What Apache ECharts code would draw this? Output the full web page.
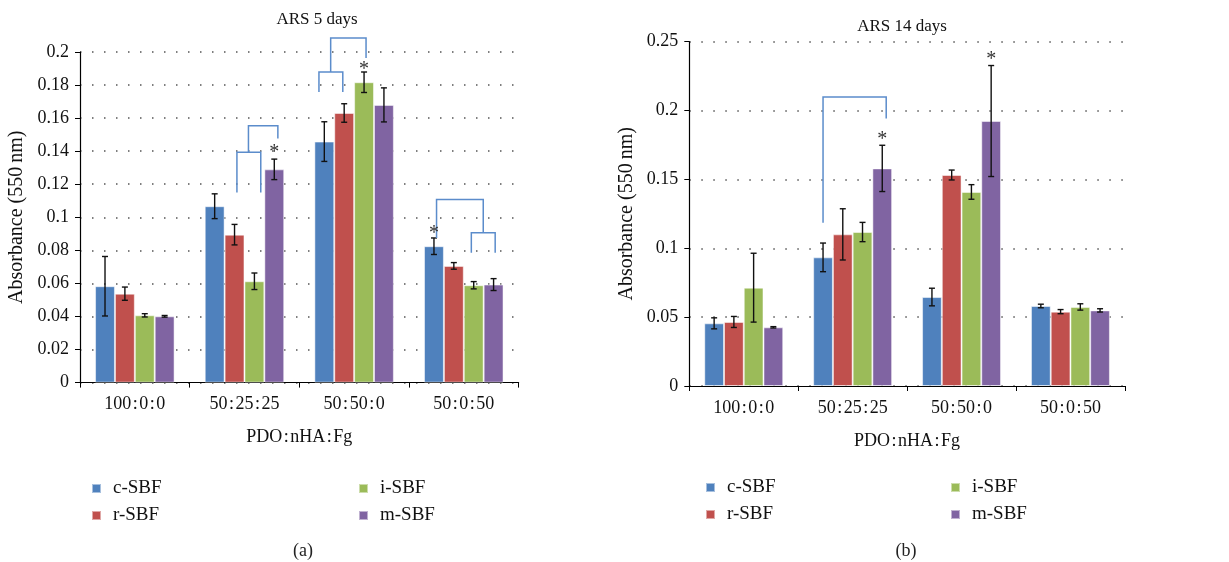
<!DOCTYPE html>
<html><head><meta charset="utf-8">
<script src="https://cdn.jsdelivr.net/npm/echarts@6/dist/echarts.min.js"></script>
<style>html,body{margin:0;padding:0;background:#fff}#c{width:1229px;height:562px}</style>
</head><body><div id="c"></div>
<script>
// ---- data ----
const categories = ['100\u200A:\u200A0\u200A:\u200A0', '50\u200A:\u200A25\u200A:\u200A25', '50\u200A:\u200A50\u200A:\u200A0', '50\u200A:\u200A0\u200A:\u200A50'];
const seriesNames = ['c-SBF', 'r-SBF', 'i-SBF', 'm-SBF'];
const titles = ['ARS 5 days', 'ARS 14 days'];
const panelLabels = ['(a)', '(b)'];
const xAxisName = 'PDO\u200A:\u200AnHA\u200A:\u200AFg';
const yAxisName = 'Absorbance (550\u2009nm)';

const day5_c = [0.0583, 0.1067, 0.1458, 0.0825];
const day5_r = [0.0538, 0.0895, 0.1631, 0.0706];
const day5_i = [0.0407, 0.0613, 0.1817, 0.0589];
const day5_m = [0.0401, 0.1290, 0.1680, 0.0593];
const day5_c_err = [0.0180, 0.0075, 0.0120, 0.0050];
const day5_r_err = [0.0040, 0.0062, 0.0056, 0.0020];
const day5_i_err = [0.0010, 0.0050, 0.0062, 0.0022];
const day5_m_err = [0.0005, 0.0062, 0.0103, 0.0036];

const day14_c = [0.0455, 0.0934, 0.0646, 0.0581];
const day14_r = [0.0465, 0.1101, 0.1532, 0.0540];
const day14_i = [0.0714, 0.1118, 0.1409, 0.0574];
const day14_m = [0.0426, 0.1580, 0.1924, 0.0549];
const day14_c_err = [0.0040, 0.0104, 0.0064, 0.0013];
const day14_r_err = [0.0040, 0.0186, 0.0036, 0.0015];
const day14_i_err = [0.0250, 0.0070, 0.0053, 0.0023];
const day14_m_err = [0.0005, 0.0168, 0.0403, 0.0012];

// significance brackets: [category, left slot, right slot, left leg bottom, top, right leg bottom]
const brackets5 = [
  [1, 1.12, 2.32, 0.1150, 0.1393, 0.1150],
  [1, 1.70, 3.18, 0.1393, 0.1554, 0.1476],
  [2, -0.27, 0.93, 0.1758, 0.1879, 0.1758],
  [2, 0.32, 2.10, 0.1879, 0.2085, 0.1964],
  [3, 0.13, 2.48, 0.0875, 0.1107, 0.0907],
  [3, 1.88, 3.08, 0.0786, 0.0907, 0.0786]
];
const brackets14 = [
  [1, 0.00, 3.20, 0.1186, 0.2098, 0.1943]
];
// asterisks: [category, slot, y]
const stars5 = [[1, 3, 0.1415], [2, 2, 0.1919], [3, 0, 0.0925]];
const stars14 = [[1, 3, 0.1815], [2, 3, 0.2396]];

// ---- chart ----
const FONT = 'Liberation Serif';
const COLORS = ['#4F81BD', '#C0504D', '#9BBB59', '#8064A2'];
const GAP = 0.275;

const vals5 = [day5_c, day5_r, day5_i, day5_m];
const errs5 = [day5_c_err, day5_r_err, day5_i_err, day5_m_err];
const vals14 = [day14_c, day14_r, day14_i, day14_m];
const errs14 = [day14_c_err, day14_r_err, day14_i_err, day14_m_err];

function slotX(api, cat, slot) {
  const band = api.size([1, 0])[0];
  const bw = band * (1 - GAP) / 4;
  return api.coord([cat, 0])[0] + (slot - 1.5) * bw;
}
function errRender(params, api) {
  const cat = api.value(0), s = api.value(1), v = api.value(2), e = api.value(3);
  const cx = slotX(api, cat, s);
  const yT = api.coord([cat, v + e])[1], yB = api.coord([cat, v - e])[1];
  const cap = 3;
  const st = { stroke: '#111', lineWidth: 1.4 };
  return { type: 'group', children: [
    { type: 'line', shape: { x1: cx, y1: yT, x2: cx, y2: yB }, style: st },
    { type: 'line', shape: { x1: cx - cap, y1: yT, x2: cx + cap, y2: yT }, style: st },
    { type: 'line', shape: { x1: cx - cap, y1: yB, x2: cx + cap, y2: yB }, style: st }
  ]};
}
function bracketRender(params, api) {
  const cat = api.value(0);
  const xl = slotX(api, cat, api.value(1)), xr = slotX(api, cat, api.value(2));
  const yl = api.coord([cat, api.value(3)])[1], yt = api.coord([cat, api.value(4)])[1], yr = api.coord([cat, api.value(5)])[1];
  return { type: 'polyline', shape: { points: [[xl, yl], [xl, yt], [xr, yt], [xr, yr]] },
    style: { stroke: '#5B8CCB', lineWidth: 1.5, fill: null } };
}
function starRender(params, api) {
  const cat = api.value(0);
  const x = slotX(api, cat, api.value(1));
  const y = api.coord([cat, api.value(2)])[1];
  return { type: 'text', x: x, y: y + 4, style: { text: '*', fontFamily: FONT, fontSize: 20, fill: '#333', textAlign: 'center', textVerticalAlign: 'middle' } };
}

function errData(vals, errs) {
  const out = [];
  vals.forEach((arr, s) => arr.forEach((v, c) => out.push([c, s, v, errs[s][c]])));
  return out;
}

const grids = [
  { left: 80, top: 52, width: 438.6, height: 330.6 },
  { left: 689.3, top: 41.7, width: 435.6, height: 344.3 }
];

function xAxisFor(i) {
  return {
    type: 'category', gridIndex: i, data: categories,
    axisLine: { lineStyle: { color: '#000', width: 1.2 } },
    axisTick: { show: true, length: 5, lineStyle: { color: '#000' } },
    axisLabel: { color: '#111', fontFamily: FONT, fontSize: 18, margin: 13 },
    name: xAxisName, nameLocation: 'middle', nameGap: 46,
    nameTextStyle: { color: '#111', fontFamily: FONT, fontSize: 18 }
  };
}
function yAxisFor(i, max, interval) {
  return {
    type: 'value', gridIndex: i, min: 0, max: max, interval: interval,
    axisLine: { show: true, lineStyle: { color: '#000', width: 1.2 } },
    axisTick: { show: true, length: 5, lineStyle: { color: '#000' } },
    axisLabel: { color: '#111', fontFamily: FONT, fontSize: 18, margin: 11 },
    splitLine: { show: true, lineStyle: { type: [1.5, 10.5], width: 1.6, color: '#555' } },
    name: yAxisName, nameLocation: 'middle', nameGap: 53,
    nameTextStyle: { color: '#111', fontFamily: FONT, fontSize: 20 }
  };
}

const series = [];
[vals5, vals14].forEach((vals, g) => {
  vals.forEach((arr, s) => {
    series.push({
      type: 'bar', name: seriesNames[s], xAxisIndex: g, yAxisIndex: g, data: arr,
      barGap: '0%', barCategoryGap: (GAP * 100) + '%',
      itemStyle: { color: COLORS[s], borderColor: 'rgba(255,255,255,0.5)', borderWidth: 1 },
      emphasis: { disabled: true }
    });
  });
});
series.push({ type: 'custom', name: 'err5', xAxisIndex: 0, yAxisIndex: 0, data: errData(vals5, errs5), encode: { x: 0, y: 2 }, renderItem: errRender, z: 5 });
series.push({ type: 'custom', name: 'err14', xAxisIndex: 1, yAxisIndex: 1, data: errData(vals14, errs14), encode: { x: 0, y: 2 }, renderItem: errRender, z: 5 });
series.push({ type: 'custom', name: 'br5', xAxisIndex: 0, yAxisIndex: 0, data: brackets5, encode: { x: 0, y: 4 }, renderItem: bracketRender, clip: false, z: 6 });
series.push({ type: 'custom', name: 'br14', xAxisIndex: 1, yAxisIndex: 1, data: brackets14, encode: { x: 0, y: 4 }, renderItem: bracketRender, clip: false, z: 6 });
series.push({ type: 'custom', name: 'st5', xAxisIndex: 0, yAxisIndex: 0, data: stars5, encode: { x: 0, y: 2 }, renderItem: starRender, clip: false, z: 6 });
series.push({ type: 'custom', name: 'st14', xAxisIndex: 1, yAxisIndex: 1, data: stars14, encode: { x: 0, y: 2 }, renderItem: starRender, clip: false, z: 6 });

function legendAt(left, top, names) {
  return {
    data: names, left: left, top: top, orient: 'vertical', itemGap: 8,
    itemWidth: 9, itemHeight: 9, icon: 'rect', selectedMode: false,
    textStyle: { color: '#111', fontFamily: FONT, fontSize: 19, padding: [0, 0, 0, 7] }
  };
}

const option = {
  backgroundColor: '#fff',
  animation: false,
  title: [
    { text: titles[0], left: 312, top: 6, textAlign: 'center', textStyle: { color: '#111', fontFamily: FONT, fontSize: 17, fontWeight: 'normal' } },
    { text: titles[1], left: 897, top: 13, textAlign: 'center', textStyle: { color: '#111', fontFamily: FONT, fontSize: 17, fontWeight: 'normal' } },
    { text: panelLabels[0], left: 298, top: 537, textAlign: 'center', textStyle: { color: '#222', fontFamily: FONT, fontSize: 18, fontWeight: 'normal' } },
    { text: panelLabels[1], left: 901, top: 537, textAlign: 'center', textStyle: { color: '#222', fontFamily: FONT, fontSize: 18, fontWeight: 'normal' } }
  ],
  legend: [
    legendAt(86, 474, ['c-SBF', 'r-SBF']),
    legendAt(353, 474, ['i-SBF', 'm-SBF']),
    legendAt(700, 473, ['c-SBF', 'r-SBF']),
    legendAt(945, 473, ['i-SBF', 'm-SBF'])
  ],
  grid: grids,
  xAxis: [xAxisFor(0), xAxisFor(1)],
  yAxis: [yAxisFor(0, 0.2, 0.02), yAxisFor(1, 0.25, 0.05)],
  series: series
};

const chart = echarts.init(document.getElementById('c'), null, { renderer: 'canvas' });
chart.setOption(option);
</script>
</body></html>
